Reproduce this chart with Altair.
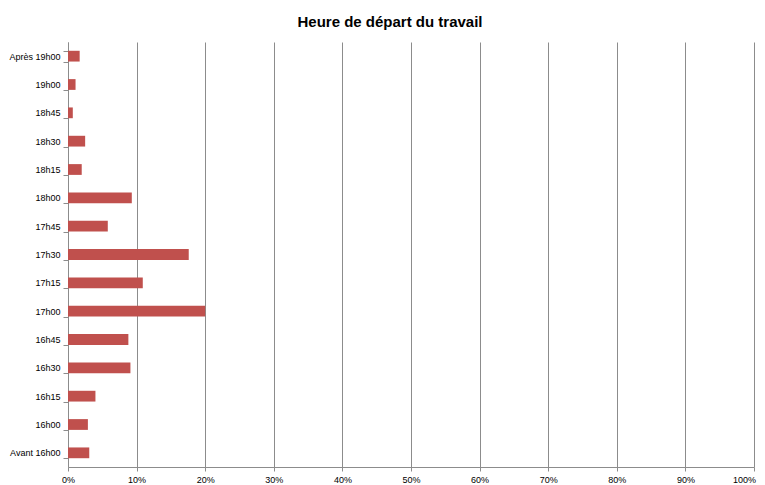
import altair as alt
import pandas as pd

categories = ["Après 19h00", "19h00", "18h45", "18h30", "18h15", "18h00", "17h45",
              "17h30", "17h15", "17h00", "16h45", "16h30", "16h15", "16h00", "Avant 16h00"]
values = [1.7, 1.1, 0.7, 2.5, 2.0, 9.3, 5.8, 17.6, 10.9, 20.0, 8.8, 9.1, 4.0, 2.9, 3.1]

df = pd.DataFrame({"cat": categories, "val": [v / 100 for v in values]})

FONT = "Liberation Sans, Arial"

chart = alt.Chart(df).mark_bar(color="#C0504D").encode(
    x=alt.X("val:Q", scale=alt.Scale(domain=[0, 1], nice=False),
            axis=alt.Axis(format=".0%", values=[i / 10 for i in range(11)], title=None,
                          grid=True, gridColor="#8c8c8c", gridWidth=1,
                          domainColor="#8c8c8c", tickColor="#8c8c8c", tickSize=4,
                          labelFont=FONT, labelFontSize=9, labelColor="#000000",
                          labelFlush=False, labelPadding=4,
                          labelOffset=alt.expr("datum.value == 1 ? -10 : 0"))),
    y=alt.Y("cat:N", sort=categories,
            scale=alt.Scale(paddingInner=0.62, paddingOuter=0.31),
            axis=alt.Axis(title=None, tickBand="extent", grid=False,
                          domainColor="#8c8c8c", tickColor="#8c8c8c", tickSize=5,
                          labelFont=FONT, labelFontSize=9, labelColor="#000000",
                          labelPadding=3)),
).properties(
    width=686, height=425,
    title=alt.TitleParams("Heure de départ du travail", font=FONT, fontSize=15,
                          fontWeight="bold", color="#000000", anchor="middle",
                          dx=-21, offset=8),
    autosize=alt.AutoSizeParams(type="none"),
    padding={"left": 60, "top": 34, "right": 3, "bottom": 20},
).configure_view(stroke=None)

chart.save("out.html", embed_options={"renderer": "svg", "actions": False})
